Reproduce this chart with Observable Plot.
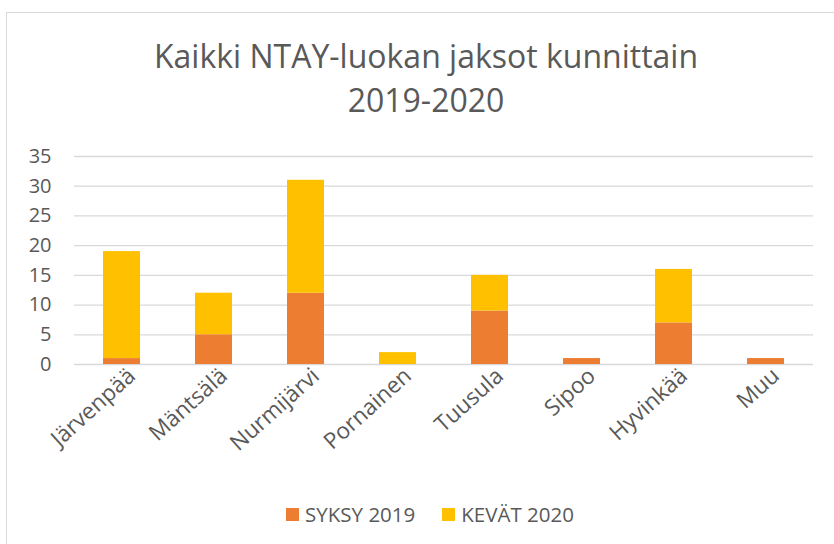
<!DOCTYPE html>
<html><head><meta charset="utf-8">
<script src="https://cdn.jsdelivr.net/npm/d3@7"></script>
<script src="https://cdn.jsdelivr.net/npm/@observablehq/plot@0.6"></script>
<style>
body{margin:0;background:#fff;font-family:"Open Sans",sans-serif;color:#595959;}
#wrap{position:relative;width:834px;height:544px;overflow:hidden;background:#fff;}
#frame{position:absolute;left:6px;top:12px;width:900px;height:600px;border:1px solid #d9d9d9;box-sizing:border-box;}
#title{position:absolute;left:0;width:852px;top:34px;text-align:center;font-size:32px;line-height:44px;color:#595959;}
#chart{position:absolute;left:0;top:140px;}
#legend{position:absolute;left:0;width:860px;top:500px;display:flex;justify-content:center;gap:27px;font-size:20.5px;color:#595959;}
#legend .item{display:flex;align-items:center;}
#legend .sw{width:13px;height:13px;margin-right:6px;}
</style>
</head><body>
<div id="wrap">
  <div id="frame"></div>
  <div id="title">Kaikki NTAY-luokan jaksot kunnittain<br>2019-2020</div>
  <div id="chart"></div>
  <div id="legend"></div>
</div>
<script>
const municipalities = ["Järvenpää","Mäntsälä","Nurmijärvi","Pornainen","Tuusula","Sipoo","Hyvinkää","Muu"];
const seriesNames = ["SYKSY 2019","KEVÄT 2020"];
const seriesColors = ["#ED7D31","#FFC000"];
const syksy2019 = [1,5,12,0,9,1,7,1];
const kevat2020 = [18,7,19,2,6,0,9,0];
const yTicks = [0,5,10,15,20,25,30,35];

const data = [];
municipalities.forEach((m,i)=>{
  data.push({kunta:m, sarja:seriesNames[0], arvo:syksy2019[i]});
  data.push({kunta:m, sarja:seriesNames[1], arvo:kevat2020[i]});
});

const chart = Plot.plot({
  width: 834,
  height: 324,
  marginTop: 16,
  marginBottom: 100,
  marginLeft: 74,
  marginRight: 21,
  style: {fontFamily: "'Open Sans', sans-serif", fontSize: "19px", color: "#595959", background: "transparent"},
  x: {domain: municipalities, paddingInner: 0.6, paddingOuter: 0.3, label: null},
  y: {domain: [0,35], label: null},
  color: {domain: seriesNames, range: seriesColors},
  marks: [
    Plot.ruleY(yTicks, {stroke: "#d9d9d9", strokeWidth: 1.3}),
    Plot.barY(data, {x: "kunta", y: "arvo", fill: "sarja", order: seriesNames}),
    Plot.axisY(yTicks, {tickSize: 0, tickPadding: 23, fontSize: 20, label: null}),
    Plot.axisX({tickSize: 0, tickRotate: -42, tickPadding: 8, fontSize: 22.5, label: null, dx: 10})
  ]
});
document.getElementById("chart").appendChild(chart);

const legend = document.getElementById("legend");
seriesNames.forEach((n,i)=>{
  const it = document.createElement("div"); it.className="item";
  const sw = document.createElement("div"); sw.className="sw"; sw.style.background=seriesColors[i];
  const t = document.createElement("span"); t.textContent=n;
  it.appendChild(sw); it.appendChild(t); legend.appendChild(it);
});
</script>
</body></html>
